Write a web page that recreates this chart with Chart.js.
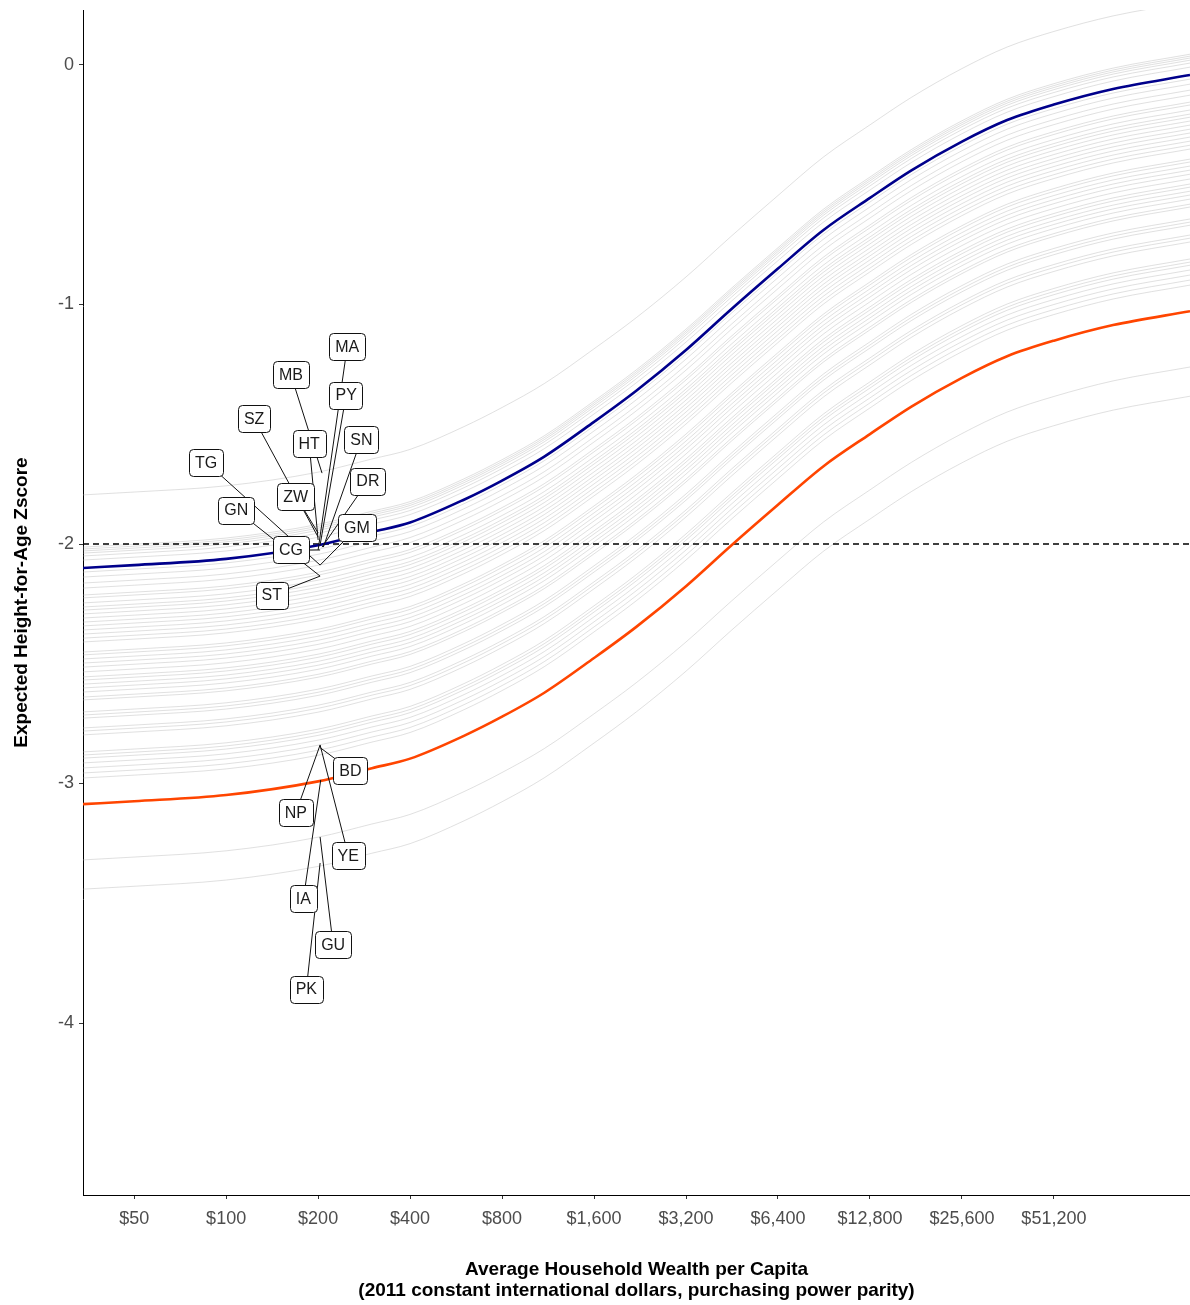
<!DOCTYPE html>
<html>
<head>
<meta charset="utf-8">
<script src="https://cdn.jsdelivr.net/npm/chart.js@4.4.1/dist/chart.umd.min.js"></script>
<style>
  html, body { margin: 0; padding: 0; background: #fff; }
  canvas { display: block; }
</style>
</head>
<body>
<canvas id="chart" width="1190" height="1305"></canvas>
<script>
// wealth grid (2011 PPP dollars) on which the curves are read
const wealthGrid = [34, 50, 100, 200, 300, 400, 600, 800, 1100, 1600, 2200, 3200, 4500, 6400, 9000, 12800, 17500, 25600, 36000, 51200, 80000, 142800];
// common wealth effect (rise in HAZ above the left end)
const wealthEffect = [0, 0.012, 0.038, 0.095, 0.150, 0.190, 0.285, 0.365, 0.465, 0.610, 0.740, 0.910, 1.080, 1.250, 1.410, 1.545, 1.660, 1.780, 1.870, 1.935, 2.000, 2.058];

// country intercepts at the left edge
const grayLevels = [-1.795, -2.013, -2.021, -2.029, -2.038, -2.050, -2.067, -2.117, -2.138, -2.163, -2.184, -2.213, -2.225, -2.246, -2.263, -2.276, -2.292, -2.309, -2.326, -2.342, -2.359, -2.376, -2.393, -2.409, -2.451, -2.463, -2.480, -2.497, -2.514, -2.534, -2.555, -2.568, -2.585, -2.601, -2.618, -2.639, -2.651, -2.701, -2.714, -2.727, -2.768, -2.781, -2.797, -2.868, -2.881, -2.894, -2.914, -2.935, -2.956, -2.977, -3.319, -3.441];
const blueLevel = -2.100;
const orangeLevel = -3.086;

// country labels: box position and the point they refer to
const labelCodes   = ['MA', 'MB', 'PY', 'SZ', 'HT', 'SN', 'TG', 'DR', 'ZW', 'GN', 'GM', 'CG', 'ST', 'BD', 'NP', 'YE', 'IA', 'GU', 'PK'];
const labelWealth  = [249, 163, 247, 123.5, 187, 277, 86, 291, 169, 108, 268, 163, 141, 255, 169, 251, 179, 224, 183];
const labelZ       = [-1.177, -1.294, -1.378, -1.478, -1.582, -1.562, -1.658, -1.737, -1.800, -1.858, -1.933, -2.025, -2.213, -2.944, -3.123, -3.299, -3.482, -3.674, -3.858];
const anchorWealth = [200, 206, 203, 200, 200, 208, 203, 206, 200, 203, 203, 203, 203, 203, 203, 203, 204, 203, 203];
const anchorZ      = [-2.025, -1.704, -2.004, -1.971, -1.983, -2.013, -2.088, -2.013, -1.954, -2.134, -2.088, -2.025, -2.134, -2.850, -2.839, -2.839, -2.985, -3.223, -3.332];

const xTickValues = [50, 100, 200, 400, 800, 1600, 3200, 6400, 12800, 25600, 51200];
const yTickValues = [-4, -3, -2, -1, 0];
const stuntingLine = -2;

Chart.defaults.font.family = "'Liberation Sans', Arial, sans-serif";

function curve(level) {
    return wealthGrid.map((w, i) => ({ x: w, y: level + wealthEffect[i] }));
}

const datasets = [
    {
        data: curve(blueLevel), borderColor: '#00008B', borderWidth: 2.6,
        pointRadius: 0, cubicInterpolationMode: 'monotone'
    },
    {
        data: curve(orangeLevel), borderColor: '#FF4500', borderWidth: 2.6,
        pointRadius: 0, cubicInterpolationMode: 'monotone'
    },
    {
        data: [{ x: wealthGrid[0], y: stuntingLine }, { x: wealthGrid[wealthGrid.length - 1], y: stuntingLine }],
        borderColor: '#000', borderWidth: 1.3, borderDash: [6, 4], pointRadius: 0
    }
];
grayLevels.forEach(lv => {
    datasets.push({
        data: curve(lv), borderColor: 'rgba(180,180,180,0.42)', borderWidth: 1,
        pointRadius: 0, cubicInterpolationMode: 'monotone'
    });
});

// label boxes with leader segments
const repelLabels = {
    id: 'repelLabels',
    afterDatasetsDraw(chart) {
        const { ctx, scales: { x, y } } = chart;
        ctx.save();
        ctx.font = "16px 'Liberation Sans', Arial, sans-serif";
        ctx.strokeStyle = '#111';
        ctx.lineWidth = 1;
        labelCodes.forEach((code, i) => {
            ctx.beginPath();
            ctx.moveTo(x.getPixelForValue(labelWealth[i]), y.getPixelForValue(labelZ[i]));
            ctx.lineTo(x.getPixelForValue(anchorWealth[i]), y.getPixelForValue(anchorZ[i]));
            ctx.stroke();
        });
        labelCodes.forEach((code, i) => {
            const cx = x.getPixelForValue(labelWealth[i]);
            const cy = y.getPixelForValue(labelZ[i]);
            const w = ctx.measureText(code).width + 12;
            const h = 27;
            ctx.beginPath();
            ctx.roundRect(Math.round(cx - w / 2) + 0.5, Math.round(cy - h / 2) + 0.5, Math.round(w), h, 4);
            ctx.fillStyle = '#fff';
            ctx.fill();
            ctx.strokeStyle = '#111';
            ctx.stroke();
            ctx.fillStyle = '#1a1a1a';
            ctx.textAlign = 'center';
            ctx.textBaseline = 'middle';
            ctx.fillText(code, cx, cy + 1);
        });
        ctx.restore();
    }
};

new Chart(document.getElementById('chart').getContext('2d'), {
    type: 'line',
    data: { datasets: datasets },
    plugins: [repelLabels],
    options: {
        responsive: false,
        animation: false,
        devicePixelRatio: 1,
        layout: { padding: { top: 10, right: 0, left: 0, bottom: 0 } },
        plugins: { legend: { display: false }, tooltip: { enabled: false } },
        elements: { line: { fill: false } },
        scales: {
            x: {
                type: 'logarithmic',
                min: 34, max: 142800,
                afterBuildTicks: s => { s.ticks = xTickValues.map(v => ({ value: v })); },
                afterFit: s => { s.height = 110; s.paddingLeft = 0; s.paddingRight = 0; },
                ticks: {
                    color: '#4D4D4D', font: { size: 18 }, padding: 9,
                    maxRotation: 0, autoSkip: false,
                    callback: v => '$' + Number(v).toLocaleString('en-US')
                },
                grid: { drawOnChartArea: false, tickLength: 4, color: '#333', tickWidth: 1 },
                border: { display: true, color: '#000', width: 1 },
                title: {
                    display: true,
                    text: ['Average Household Wealth per Capita', '(2011 constant international dollars, purchasing power parity)'],
                    color: '#000', font: { size: 19, weight: 'bold', lineHeight: 1.1 },
                    padding: { top: 0, bottom: 3.5 }
                }
            },
            y: {
                type: 'linear',
                min: -4.718, max: 0.2296,
                afterBuildTicks: s => { s.ticks = yTickValues.map(v => ({ value: v })); },
                afterFit: s => { s.width = 83; s.paddingTop = 0; s.paddingBottom = 0; },
                ticks: { color: '#4D4D4D', font: { size: 18 }, padding: 5, callback: v => String(v) },
                grid: { drawOnChartArea: false, tickLength: 4, color: '#333', tickWidth: 1 },
                border: { display: true, color: '#000', width: 1 },
                title: {
                    display: true, text: 'Expected Height-for-Age Zscore',
                    color: '#000', font: { size: 19, weight: 'bold' },
                    padding: { top: 10, bottom: 0 }
                }
            }
        }
    }
});
</script>
</body>
</html>
